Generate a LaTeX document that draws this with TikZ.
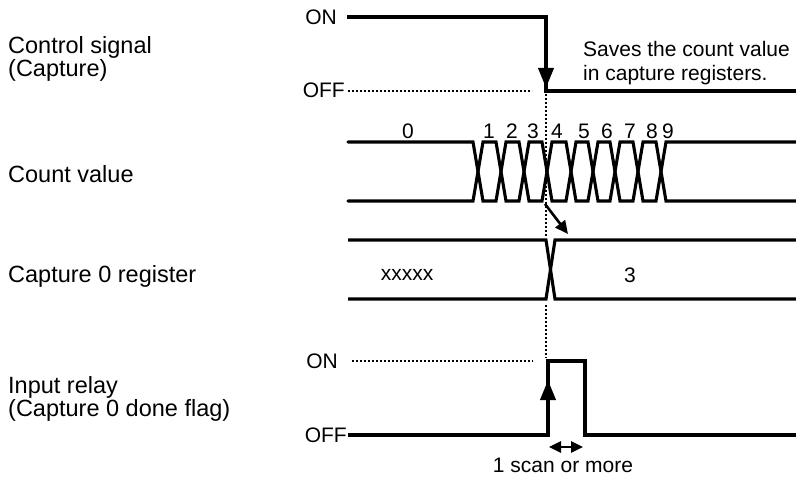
\documentclass[tikz,border=0pt]{standalone}
\usepackage{fontspec}
\setmainfont{Liberation Sans}
\usepackage{tikz}
\usetikzlibrary{arrows.meta}

\begin{document}
\begin{tikzpicture}[
  x=1pt, y=-1pt,
  every node/.style={inner sep=0pt},
  rowlab/.style={anchor=west, align=left, font=\fontsize{23.5}{23.5}\selectfont},
  txt/.style={font=\fontsize{21}{24}\selectfont},
  lvl/.style={txt, anchor=east},
  wave/.style={line width=3.1pt, line join=miter},
  bus/.style={line width=3.1pt, line cap=round, line join=miter},
  guide/.style={line width=2pt, dash pattern=on 1.6pt off 2.4pt},
  push/.style={-{Triangle[length=20pt, width=15pt]}, line width=3.8pt},
  hint/.style={-{Triangle[length=13pt, width=12pt]}, line width=2.6pt},
  span/.style={{Triangle[length=12pt, width=11pt]}-{Triangle[length=12pt, width=11pt]}, line width=2.6pt}
]
\useasboundingbox (0,0) rectangle (796,487);

\node[rowlab] (ctrl) at (8,59) {Control signal\\(Capture)};
\node[rowlab] (count) at (8,174.5) {Count value};
\node[rowlab] (reg) at (8,276) {Capture 0 register};
\node[rowlab] (relay) at (8,399) {Input relay\\(Capture 0 done flag)};

\node[lvl] (ctrlon) at (337,17.5) {ON};
\node[lvl] (ctrloff) at (345,90) {OFF};
\node[lvl] (relayon) at (338,361) {ON};
\node[lvl] (relayoff) at (347,435) {OFF};

\coordinate (capstart) at (546,33);
\coordinate (captip) at (546,88);
\coordinate (busout) at (545,204);
\coordinate (regin) at (568,234);
\coordinate (risestart) at (548,435);
\coordinate (risetip) at (548,380);
\coordinate (scanl) at (549,447);
\coordinate (scanr) at (583,447);

\draw[wave] (347,17) -- (546,17) -- (546,91) -- (796,91);
\draw[guide] (348,91) -- (532,91);
\draw[push] (capstart) -- (captip);
\node[txt, anchor=west, align=left] (note) at (583,63.3) {Saves the count value\\in capture registers.};

\draw[bus] (348,142) foreach \c/\p/\q in {478/142/201,501/201/142,524/142/201,547/201/142,571/142/201,593/201/142,615/142/201,638/201/142,661/142/201} { -- (\c-5,\p) -- (\c+5,\q) } -- (796,201);
\draw[bus] (348,201) foreach \c/\p/\q in {478/201/142,501/142/201,524/201/142,547/142/201,571/201/142,593/142/201,615/201/142,638/142/201,661/201/142} { -- (\c-5,\p) -- (\c+5,\q) } -- (796,142);
\foreach \d/\x in {0/408,1/489,2/512,3/533,4/557,5/584,6/607,7/630,8/652,9/668}
  \node[txt] (val\d) at (\x,131) {\d};

\draw[wave] (348,240) -- (546,240) -- (555,299) -- (796,299);
\draw[wave] (348,299) -- (546,299) -- (555,240) -- (796,240);
\node[txt] (old) at (407,275) {xxxxx};
\node[txt] (new) at (630,275) {3};

\draw[guide] (546,94) -- (546,237);
\draw[guide] (546,305) -- (546,358);
\draw[hint] (busout) -- (regin);

\draw[wave] (348,435) -- (548,435) -- (548,361) -- (585,361) -- (585,435) -- (796,435);
\draw[guide] (352,361) -- (533,361);
\draw[push] (risestart) -- (risetip);
\draw[span] (scanl) -- (scanr);
\node[txt] (scan) at (563,465.5) {1 scan or more};
\end{tikzpicture}
\end{document}
